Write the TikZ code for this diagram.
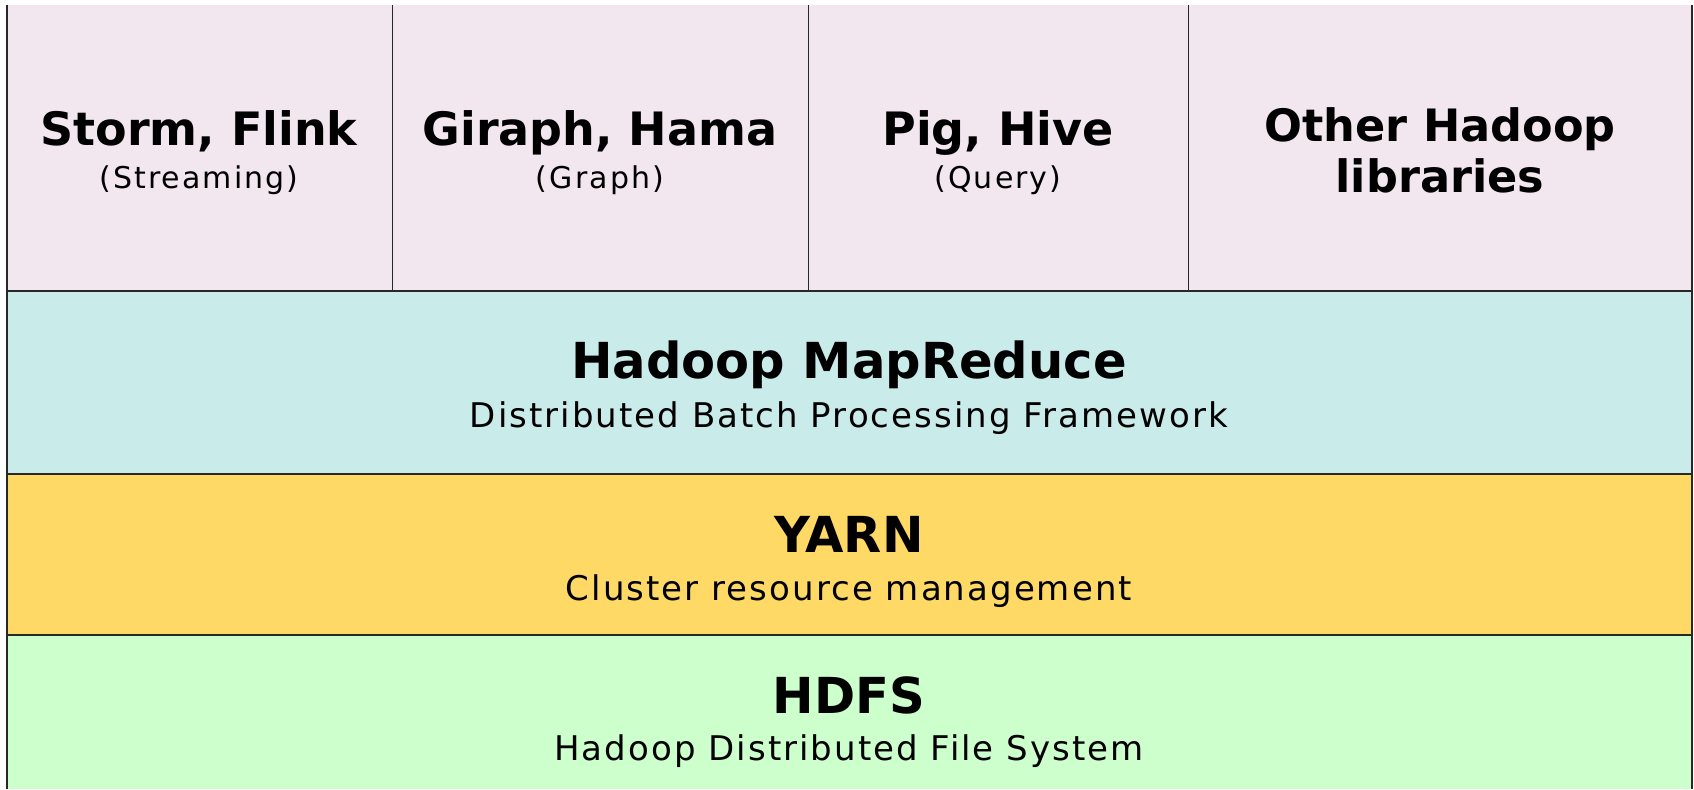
\documentclass[tikz,border=0pt]{standalone}
\usepackage{fontspec}
\setmainfont{DejaVu Sans}
\newfontfamily\layerfont[LetterSpace=6]{DejaVu Sans}
\newfontfamily\appfont[LetterSpace=7]{DejaVu Sans}
\usetikzlibrary{positioning}

\definecolor{appspink}{RGB}{242,230,239}
\definecolor{mrcyan}{RGB}{201,235,233}
\definecolor{yarnyellow}{RGB}{255,217,102}
\definecolor{hdfsgreen}{RGB}{204,255,204}
\definecolor{rule}{RGB}{40,40,40}

\tikzset{
    bigname/.style={anchor=base, font=\fontsize{24.8}{30}\selectfont\bfseries},
    appname/.style={anchor=base, font=\fontsize{23}{28}\selectfont\bfseries},
    subname/.style={anchor=base, font=\layerfont\fontsize{17}{20}\selectfont},
    appsub/.style={anchor=base, font=\appfont\fontsize{15}{18}\selectfont},
    thickrule/.style={rule, line width=1pt},
    thinrule/.style={rule, line width=0.5pt},
}

\begin{document}
\begin{tikzpicture}[x=0.5pt, y=-0.5pt]
    \useasboundingbox (0,0) rectangle (1694,789);
    \begin{scope} % Layer fills
        \fill[appspink] (7,5) rectangle (1692,291);
        \fill[mrcyan] (7,291) rectangle (1692,474);
        \fill[yarnyellow] (7,474) rectangle (1692,635);
        \fill[hdfsgreen] (7,635) rectangle (1692,789);
    \end{scope}
    \begin{scope} % Borders
        \foreach \y in {291,474,635}
            \draw[thickrule] (7,\y) -- (1692,\y);
        \foreach \x in {392,808,1188}
            \draw[thinrule] (\x,5) -- (\x,291);
        \draw[thickrule] (7,5) -- (7,789);
        \draw[thickrule] (1692,5) -- (1692,789);
    \end{scope}
    \begin{scope} % Applications on top
        \node[appname] (storm) at (199,145) {Storm, Flink};
        \node[appsub] (streaming) at (199,188) {(Streaming)};
        \node[appname] (giraph) at (600,145) {Giraph, Hama};
        \node[appsub] (graph) at (600,188) {(Graph)};
        \node[appname] (pig) at (998,145) {Pig, Hive};
        \node[appsub] (query) at (998,188) {(Query)};
        \node[appname, font=\fontsize{22.3}{27}\selectfont\bfseries]
            (other) at (1440,141) {Other Hadoop};
        \node[appname, font=\fontsize{22.3}{27}\selectfont\bfseries]
            (libs) at (1440,192) {libraries};
    \end{scope}
    \begin{scope} % Stack layers
        \node[bigname] (mapreduce) at (849,378) {Hadoop MapReduce};
        \node[subname] (batch) at (849,427) {Distributed Batch Processing Framework};
        \node[bigname] (yarn) at (849,552) {YARN};
        \node[subname] (cluster) at (849,600) {Cluster resource management};
        \node[bigname] (hdfs) at (849,713) {HDFS};
        \node[subname] (dfs) at (849,760) {Hadoop Distributed File System};
    \end{scope}
\end{tikzpicture}
\end{document}
